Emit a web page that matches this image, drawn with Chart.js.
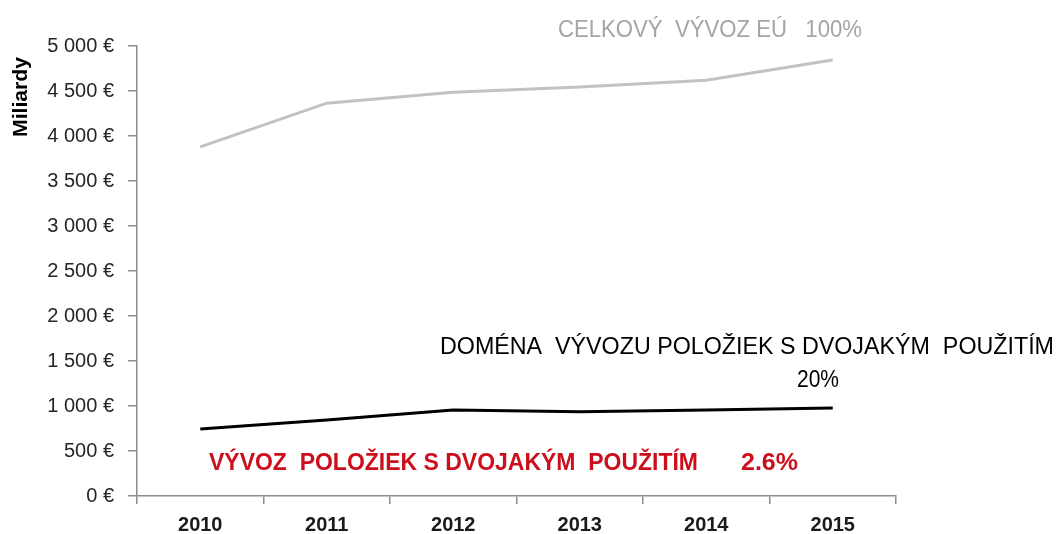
<!DOCTYPE html>
<html>
<head>
<meta charset="utf-8">
<script src="https://cdn.jsdelivr.net/npm/chart.js@4.4.1/dist/chart.umd.min.js"></script>
<style>
  html, body { margin: 0; padding: 0; background: #ffffff; }
  canvas { display: block; }
</style>
</head>
<body>
<canvas id="c" width="1058" height="534"></canvas>
<script>
// ---- Data ----
const years = ['2010', '2011', '2012', '2013', '2014', '2015'];
const totalExports = [3880, 4365, 4485, 4545, 4620, 4845];      // CELKOVÝ VÝVOZ EÚ (100%)
const dualUseDomain = [745, 845, 955, 935, 955, 978];           // DOMÉNA VÝVOZU POLOŽIEK S DVOJAKÝM POUŽITÍM (20%)
const yTickValues = [0, 500, 1000, 1500, 2000, 2500, 3000, 3500, 4000, 4500, 5000];
const yAxisTitle = 'Miliardy';
const labelTotal = 'CELKOVÝ  VÝVOZ EÚ   100%';
const labelDomain = 'DOMÉNA  VÝVOZU POLOŽIEK S DVOJAKÝM  POUŽITÍM';
const labelDomainPct = '20%';
const labelDualUse = 'VÝVOZ  POLOŽIEK S DVOJAKÝM  POUŽITÍM';
const labelDualUsePct = '2.6%';

const axisColor = '#8c8c8c';
const FONT = '"Liberation Sans", Arial, sans-serif';

function fmtEuro(v) {
  return String(v).replace(/\B(?=(\d{3})+(?!\d))/g, ' ') + ' €';
}

function fitText(ctx, text, x, y, targetWidth, align) {
  const w = ctx.measureText(text).width;
  const sx = targetWidth / w;
  ctx.save();
  ctx.translate(x, y);
  ctx.scale(sx, 1);
  ctx.textAlign = align || 'left';
  ctx.textBaseline = 'middle';
  ctx.fillText(text, 0, 0);
  ctx.restore();
}

const annotations = {
  id: 'annotations',
  afterDraw(chart) {
    const ctx = chart.ctx;
    ctx.save();
    // y-axis title
    ctx.save();
    ctx.translate(21, 97);
    ctx.rotate(-Math.PI / 2);
    ctx.font = 'bold 20px ' + FONT;
    ctx.fillStyle = '#000000';
    ctx.textAlign = 'center';
    ctx.textBaseline = 'middle';
    fitText(ctx, yAxisTitle, -40, 0, 80, 'left');
    ctx.restore();

    // gray label
    ctx.font = '23px ' + FONT;
    ctx.fillStyle = '#a5a5a5';
    fitText(ctx, labelTotal, 558, 31, 304, 'left');

    // black label
    ctx.fillStyle = '#000000';
    ctx.font = '23px ' + FONT;
    fitText(ctx, labelDomain, 440, 348, 614, 'left');
    fitText(ctx, labelDomainPct, 797, 381, 42, 'left');

    // red label
    ctx.fillStyle = '#cc0f1c';
    ctx.font = 'bold 23px ' + FONT;
    fitText(ctx, labelDualUse, 209, 464, 489, 'left');
    fitText(ctx, labelDualUsePct, 741, 464, 57, 'left');
    ctx.restore();
  }
};

new Chart(document.getElementById('c'), {
  type: 'line',
  data: {
    labels: years,
    datasets: [
      {
        label: 'Celkový vývoz EÚ',
        data: totalExports,
        borderColor: '#c2c2c2',
        borderWidth: 3,
        pointRadius: 0,
        tension: 0,
        fill: false
      },
      {
        label: 'Doména vývozu položiek s dvojakým použitím',
        data: dualUseDomain,
        borderColor: '#000000',
        borderWidth: 3,
        pointRadius: 0,
        tension: 0,
        fill: false
      }
    ]
  },
  options: {
    responsive: false,
    devicePixelRatio: 1,
    animation: false,
    layout: { padding: { top: 46, right: 162, left: 0, bottom: 0 } },
    plugins: {
      legend: { display: false },
      tooltip: { enabled: false },
      title: { display: false }
    },
    scales: {
      x: {
        type: 'category',
        offset: true,
        grid: {
          offset: true,
          drawOnChartArea: false,
          drawTicks: true,
          tickLength: 8,
          color: axisColor,
          lineWidth: 1.5
        },
        border: { color: axisColor, width: 1.5 },
        ticks: {
          color: '#1a1a1a',
          font: { family: FONT, size: 20, weight: 'bold' },
          padding: 9,
          maxRotation: 0,
          autoSkip: false
        },
        afterFit(scale) { scale.height = 38; }
      },
      y: {
        min: 0,
        max: 5000,
        afterBuildTicks(scale) {
          scale.ticks = yTickValues.map(v => ({ value: v }));
        },
        grid: {
          drawOnChartArea: false,
          drawTicks: true,
          tickLength: 9,
          color: axisColor,
          lineWidth: 1.5
        },
        border: { color: axisColor, width: 1.5 },
        ticks: {
          color: '#262626',
          font: { family: FONT, size: 20 },
          padding: 14,
          callback: (v) => fmtEuro(v)
        },
        afterFit(scale) { scale.width = 137; }
      }
    }
  },
  plugins: [annotations]
});
</script>
</body>
</html>
